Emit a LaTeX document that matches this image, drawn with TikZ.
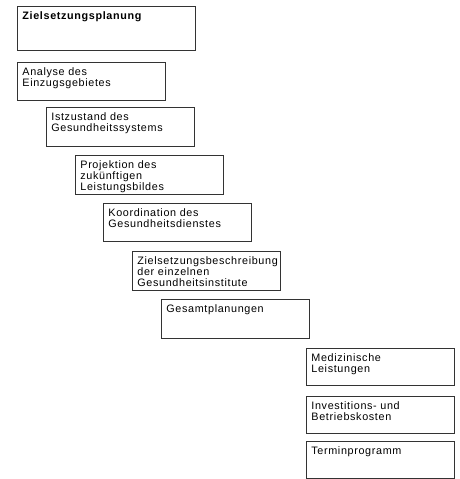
\documentclass[tikz,border=0pt]{standalone}
\usepackage{fontspec}
\setmainfont[LetterSpace=6]{Liberation Sans}
\begin{document}
\begin{tikzpicture}[x=1pt,y=-1pt,
	planbox/.style={draw=black!80, line width=0.8pt, anchor=north west,
		inner xsep=5pt, inner ysep=4.5pt, text width=137.5pt, align=left,
		text height=8.5pt, text depth=20.5pt,
		font=\fontsize{10.8}{11.2}\selectfont}]
	\useasboundingbox (0,0) rectangle (459,479);
	\node (1) at (17,6) [planbox, text width=167.5pt, text depth=26pt]
	{\textbf{Zielsetzungsplanung}};
	\node (2) at (17,62) [planbox]
	{Analyse des\\Einzugsgebietes};
	\node (3) at (46,107) [planbox, text depth=21.5pt]
	{Istzustand des\\Gesundheitssystems};
	\node (4) at (75,155) [planbox, text depth=21pt]
	{Projektion des\\zukünftigen\\Leistungsbildes};
	\node (5) at (103,203) [planbox]
	{Koordination des\\Gesundheitsdienstes};
	\node (6) at (132,251) [planbox, text depth=21pt]
	{Zielsetzungsbeschreibung\\der einzelnen\\Gesundheitsinstitute};
	\node (7) at (161,299) [planbox, text depth=21pt]
	{Gesamtplanungen};
	\node (8) at (306,348) [planbox, text depth=19.5pt]
	{Medizinische\\Leistungen};
	\node (9) at (306,396) [planbox, text depth=19.5pt]
	{Investitions- und\\Betriebskosten};
	\node (10) at (306,441) [planbox, text depth=19.5pt]
	{Terminprogramm};
\end{tikzpicture}
\end{document}
